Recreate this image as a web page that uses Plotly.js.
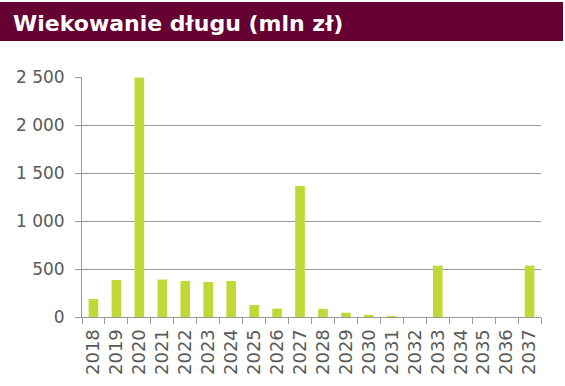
<!DOCTYPE html>
<html>
<head>
<meta charset="utf-8">
<script src="https://cdn.plot.ly/plotly-3.0.1.min.js"></script>
<style>html,body{margin:0;padding:0;background:#fff;}#chart{width:565px;height:386px;}</style>
</head>
<body>
<div id="chart"></div>
<script>
const years = ["2018","2019","2020","2021","2022","2023","2024","2025","2026","2027","2028","2029","2030","2031","2032","2033","2034","2035","2036","2037"];
const debt = [188, 385, 2495, 390, 375, 365, 375, 125, 88, 1365, 85, 45, 22, 10, 0, 535, 0, 0, 0, 535];
const yTickVals = [0, 500, 1000, 1500, 2000, 2500];
const yTickText = ["0", "500", "1 000", "1 500", "2 000", "2 500"];
const titleText = "Wiekowanie długu (mln zł)";

const W = 565, H = 386;
const m = {l: 82, r: 24, t: 77, b: 69};
const pw = W - m.l - m.r, ph = H - m.t - m.b;

const trace = {
  type: "bar",
  x: years,
  y: debt,
  width: 0.42,
  marker: {color: "#c1d838", line: {width: 0}},
  hoverinfo: "x+y"
};

const gray = "#9a9a9a";
const layout = {
  width: W, height: H,
  margin: m,
  paper_bgcolor: "#ffffff",
  plot_bgcolor: "#ffffff",
  showlegend: false,
  font: {family: "DejaVu Sans, Verdana, sans-serif", color: "#595959"},
  title: {
    text: "<b>" + titleText + "</b>",
    font: {family: "DejaVu Sans, Verdana, sans-serif", size: 22, color: "#ffffff"},
    xref: "container", yref: "container",
    x: 13 / W, xanchor: "left",
    y: 1 - 23 / H, yanchor: "middle"
  },
  shapes: [{
    type: "rect", xref: "paper", yref: "paper", layer: "below",
    x0: -m.l / pw, x1: (563 - m.l) / pw,
    y0: 1 + (m.t - 41) / ph, y1: 1 + (m.t - 2) / ph,
    fillcolor: "#660033", line: {width: 0}
  }],
  xaxis: {
    type: "category",
    tickangle: -90,
    tickfont: {size: 18, color: "#595959"},
    showline: true, linecolor: gray, linewidth: 1,
    ticks: "outside", ticklen: 6, tickcolor: gray, tickwidth: 1,
    tickson: "boundaries",
    ticklabelstandoff: 4,
    showgrid: false,
    fixedrange: true
  },
  yaxis: {
    range: [0, 2500],
    tickvals: yTickVals, ticktext: yTickText,
    tickfont: {size: 17, color: "#595959"},
    showline: true, linecolor: gray, linewidth: 1,
    ticks: "outside", ticklen: 6, tickcolor: gray, tickwidth: 1,
    showgrid: true, gridcolor: gray, gridwidth: 1,
    zeroline: false,
    ticklabelstandoff: 7,
    fixedrange: true
  },
  bargap: 0.58
};

Plotly.newPlot("chart", [trace], layout, {displayModeBar: false, staticPlot: true});
</script>
</body>
</html>
